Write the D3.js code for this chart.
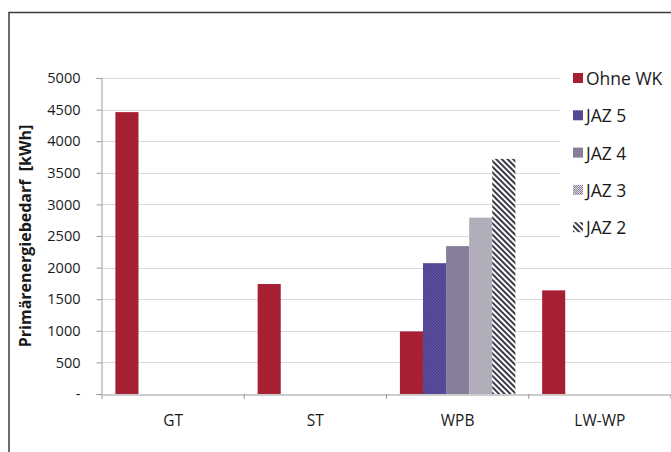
<!DOCTYPE html>
<html>
<head>
<meta charset="utf-8">
<script src="https://cdn.jsdelivr.net/npm/d3@7"></script>
<style>
  html, body { margin: 0; padding: 0; background: #fff; }
  svg { display: block; }
  text { font-family: "Open Sans", "DejaVu Sans", sans-serif; fill: #1a1a1a; }
</style>
</head>
<body>
<svg id="chart" width="671" height="452"></svg>
<script>
// Primary energy demand per heating system, in kWh
const categories = ["GT", "ST", "WPB", "LW-WP"];
const seriesNames = ["Ohne WK", "JAZ 5", "JAZ 4", "JAZ 3", "JAZ 2"];
const ohneWK = [4460, 1740, 990, 1640];
const jaz5 = [null, null, 2070, null];
const jaz4 = [null, null, 2340, null];
const jaz3 = [null, null, 2790, null];
const jaz2 = [null, null, 3720, null];
const yTicks = [0, 500, 1000, 1500, 2000, 2500, 3000, 3500, 4000, 4500, 5000];
const yTitle = "Primärenergiebedarf  [kWh]";

const seriesValues = [ohneWK, jaz5, jaz4, jaz3, jaz2];

const svg = d3.select("#chart");
const defs = svg.append("defs");

// Fill patterns for the heat-pump variants
function checker(id, a, b, size) {
  const p = defs.append("pattern").attr("id", id)
    .attr("patternUnits", "userSpaceOnUse").attr("width", size * 2).attr("height", size * 2);
  p.append("rect").attr("width", size * 2).attr("height", size * 2).attr("fill", a);
  p.append("rect").attr("width", size).attr("height", size).attr("fill", b);
  p.append("rect").attr("x", size).attr("y", size).attr("width", size).attr("height", size).attr("fill", b);
}
checker("pJaz5", "#3a307a", "#7261b0", 1.5);
checker("pJaz4", "#7b7090", "#938aa4", 1.5);
checker("pJaz3", "#e4e1e9", "#7e798c", 1);
(function stripes() {
  const p = defs.append("pattern").attr("id", "pJaz2")
    .attr("patternUnits", "userSpaceOnUse").attr("width", 4).attr("height", 4)
    .attr("patternTransform", "rotate(-45)");
  p.append("rect").attr("width", 4).attr("height", 4).attr("fill", "#ffffff");
  p.append("rect").attr("width", 2).attr("height", 4).attr("fill", "#3a3a48");
})();

const fills = ["#a61f33", "url(#pJaz5)", "url(#pJaz4)", "url(#pJaz3)", "url(#pJaz2)"];

// Outer frame (open to the right and bottom)
svg.append("path")
  .attr("d", "M9,452 L9,12.5 L671,12.5")
  .attr("fill", "none").attr("stroke", "#3c3c3c").attr("stroke-width", 1.5);

const plot = { left: 102, right: 671, top: 78, bottom: 394 };

const x0 = d3.scaleBand().domain(categories).range([plot.left, plot.right]).paddingInner(0).paddingOuter(0);
const x1 = d3.scaleBand().domain(seriesNames).range([0, x0.bandwidth()]).paddingInner(0).paddingOuter(0.58);
const y = d3.scaleLinear().domain([0, 5000]).range([plot.bottom, plot.top]);

// Horizontal gridlines
svg.append("g").selectAll("line").data(yTicks.filter(d => d > 0)).join("line")
  .attr("x1", plot.left).attr("x2", plot.right)
  .attr("y1", d => Math.round(y(d)) + 0.5).attr("y2", d => Math.round(y(d)) + 0.5)
  .attr("stroke", "#d9d9d9").attr("stroke-width", 1);

// Y axis
const yAxis = svg.append("g").attr("transform", `translate(${plot.left - 0.5},0)`)
  .call(d3.axisLeft(y).tickValues(yTicks).tickSize(5).tickPadding(16)
    .tickFormat(d => d === 0 ? "-" : String(d)));
yAxis.select(".domain").attr("stroke", "#9a9a9a");
yAxis.selectAll(".tick line").attr("stroke", "#9a9a9a");
yAxis.selectAll(".tick text").attr("font-size", 14.5).attr("font-family", "Open Sans").attr("fill", "#1a1a1a");

// Bars
const groups = svg.append("g").selectAll("g").data(categories).join("g")
  .attr("transform", d => `translate(${x0(d)},0)`);
groups.selectAll("rect")
  .data((c, ci) => seriesNames.map((s, si) => ({ s, si, v: seriesValues[si][ci] })).filter(d => d.v != null))
  .join("rect")
  .attr("x", d => x1(d.s))
  .attr("width", x1.bandwidth())
  .attr("y", d => y(d.v))
  .attr("height", d => y(0) - y(d.v))
  .attr("fill", d => fills[d.si]);

// X axis
const xAxis = svg.append("g").attr("transform", `translate(0,${plot.bottom + 0.5})`)
  .call(d3.axisBottom(x0).tickSize(0).tickPadding(20));
xAxis.select(".domain").attr("stroke", "#9a9a9a");
xAxis.selectAll(".tick text").attr("font-size", 15.5).attr("font-family", "Open Sans").attr("fill", "#1a1a1a");
svg.append("g").selectAll("line").data(categories.concat([null])).join("line")
  .attr("x1", (d, i) => plot.left + i * x0.step()).attr("x2", (d, i) => plot.left + i * x0.step())
  .attr("y1", plot.bottom).attr("y2", plot.bottom + 5)
  .attr("stroke", "#9a9a9a");

// Y axis title
svg.append("text")
  .attr("transform", `translate(27,${(plot.top + plot.bottom) / 2}) rotate(-90)`)
  .attr("text-anchor", "middle").attr("dominant-baseline", "middle")
  .attr("font-size", 16).attr("font-weight", "bold")
  .style("white-space", "pre")
  .text(yTitle);

// Legend
const legend = svg.append("g");
legend.append("rect").attr("x", 560).attr("y", 55).attr("width", 111).attr("height", 190).attr("fill", "#fff");
const items = legend.selectAll("g").data(seriesNames).join("g")
  .attr("transform", (d, i) => `translate(573,${78 + i * 37.3})`);
items.append("rect").attr("x", 0).attr("y", -5).attr("width", 10).attr("height", 10)
  .attr("fill", (d, i) => fills[i]);
items.append("text").attr("x", 13).attr("y", 0).attr("dominant-baseline", "central")
  .attr("font-size", 17.5).text(d => d);
</script>
</body>
</html>
